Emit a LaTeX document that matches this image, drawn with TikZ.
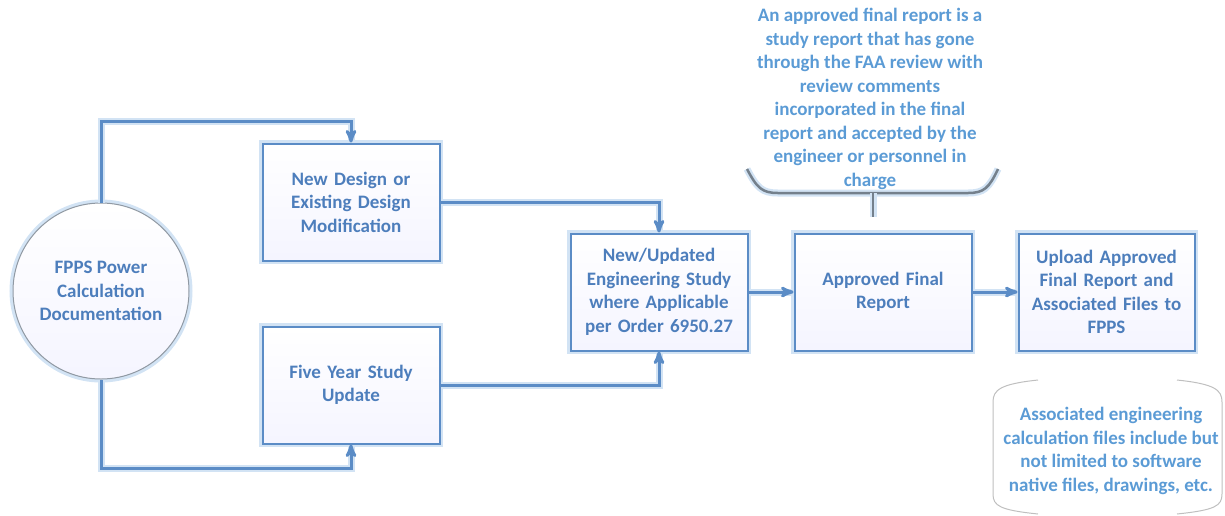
\documentclass[tikz,border=0pt]{standalone}
\usepackage{fontspec}
\setmainfont{Carlito}
\usetikzlibrary{positioning,arrows,calc}
\definecolor{boxline}{HTML}{5B8CC6}
\definecolor{boxtext}{HTML}{4D7EBC}
\definecolor{notetext}{HTML}{5B9BD5}
\definecolor{glowc}{HTML}{D2E3F4}
\definecolor{bracec}{HTML}{74808C}
\tikzset{
	>=stealth'
}

\begin{document}
\begin{tikzpicture}[
	x = 1pt, y = -1pt,
	every node/.style = {
		font = \bfseries\fontsize{19}{23.5}\selectfont,
		text = boxtext
	},
	glow/.style = {
		preaction = {draw = glowc, line width = 7pt, -}
	},
	stage/.style = {
		draw = boxline,
		line width = 2pt,
		glow,
		top color = white,
		bottom color = blue!4,
		minimum width = 177pt,
		minimum height = 117pt,
		text width = 165pt,
		align = center,
	},
	link/.style = {
		->,
		draw = boxline,
		line width = 3pt,
		glow
	},
	note/.style = {
		text = notetext,
		align = center
	}
	]
	\useasboundingbox (0,0) rectangle (1225,515);
	
	\node[circle, draw = bracec!80, line width = 1pt, glow, top color = white, bottom color = blue!4,
		minimum size = 176pt, align = center] (fpps) at (101,291) {FPPS Power\\Calculation\\Documentation};
	\node[stage] (newdesign) at (351,202) {New Design or\\Existing Design\\Modification};
	\node[stage] (fiveyear) at (351,385) {Five Year Study\\Update};
	\node[stage] (study) at (659,292) {New/Updated\\Engineering Study\\where Applicable\\per Order 6950.27};
	\node[stage, right = 45pt of study] (approved) {Approved Final\\Report};
	\node[stage, minimum width = 176pt, right = 45pt of approved] (upload) {Upload Approved\\Final Report and\\Associated Files to\\FPPS};
	
	\node[note] (remark) at (870,99) {An approved final report is a\\study report that has gone\\through the FAA review with\\review comments\\incorporated in the final\\report and accepted by the\\engineer or personnel in\\charge};
	\node[note] (filesnote) at (1111,451) {Associated engineering\\calculation files include but\\not limited to software\\native files, drawings, etc.};
	
	\draw[link] (fpps.north) -- ++(0,-81) -| (newdesign.north);
	\draw[link] (fpps.south) -- ++(0,89) -| (fiveyear.south);
	\draw[link] (newdesign.east) -| (study.north);
	\draw[link] (fiveyear.east) -| (study.south);
	\draw[link] (study) -- (approved);
	\draw[link] (approved) -- (upload);
	
	% bracket under the remark
	\coordinate (brace) at (873,193);
	\draw[bracec, line width = 2.5pt, glow] (747,169) .. controls (757,188) and (762,193) .. (778,193)
		-- (968,193) .. controls (984,193) and (989,188) .. (998,169);
	\draw[bracec, line width = 2.5pt, glow] (brace) -- ++(0,24);
	
	% brackets round the note
	\draw[black!25, line width = 1pt] (1038,380) .. controls (1000,384) and (993,390) .. (993,402)
		-- (993,494) .. controls (993,506) and (1000,510) .. (1038,514);
	\draw[black!25, line width = 1pt] (1177,380) .. controls (1215,384) and (1222,390) .. (1222,402)
		-- (1222,494) .. controls (1222,506) and (1215,510) .. (1177,514);
	
\end{tikzpicture}
\end{document}
